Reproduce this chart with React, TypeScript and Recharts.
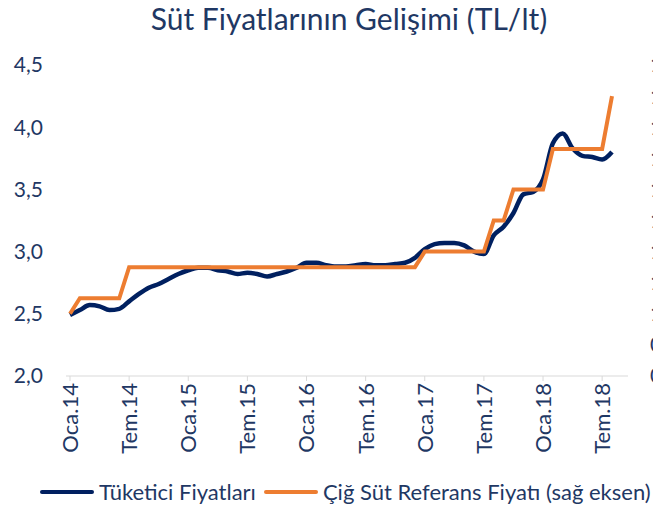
import React from "react";
import { Line, LineChart, XAxis, YAxis } from "recharts";

const months = [
  "Oca.14", "Şub.14", "Mar.14", "Nis.14", "May.14", "Haz.14", "Tem.14", "Ağu.14", "Eyl.14", "Eki.14", "Kas.14", "Ara.14",
  "Oca.15", "Şub.15", "Mar.15", "Nis.15", "May.15", "Haz.15", "Tem.15", "Ağu.15", "Eyl.15", "Eki.15", "Kas.15", "Ara.15",
  "Oca.16", "Şub.16", "Mar.16", "Nis.16", "May.16", "Haz.16", "Tem.16", "Ağu.16", "Eyl.16", "Eki.16", "Kas.16", "Ara.16",
  "Oca.17", "Şub.17", "Mar.17", "Nis.17", "May.17", "Haz.17", "Tem.17", "Ağu.17", "Eyl.17", "Eki.17", "Kas.17", "Ara.17",
  "Oca.18", "Şub.18", "Mar.18", "Nis.18", "May.18", "Haz.18", "Tem.18", "Ağu.18",
];

// Tüketici fiyatları (sol eksen, TL/lt)
const consumerPrice = [
  2.49, 2.53, 2.57, 2.56, 2.53, 2.54, 2.6, 2.66, 2.71, 2.74, 2.78, 2.82,
  2.85, 2.87, 2.87, 2.85, 2.84, 2.82, 2.83, 2.82, 2.8, 2.82, 2.84, 2.87,
  2.91, 2.91, 2.89, 2.88, 2.88, 2.89, 2.9, 2.89, 2.89, 2.9, 2.91, 2.95,
  3.02, 3.06, 3.07, 3.07, 3.05, 3.0, 2.98, 3.13, 3.2, 3.31, 3.46, 3.48,
  3.58, 3.87, 3.95, 3.83, 3.77, 3.76, 3.74, 3.8,
];

// Çiğ süt referans fiyatı (sağ eksen, TL/lt)
const rawMilkPrice = [
  1.0, 1.05, 1.05, 1.05, 1.05, 1.05, 1.15, 1.15, 1.15, 1.15, 1.15, 1.15,
  1.15, 1.15, 1.15, 1.15, 1.15, 1.15, 1.15, 1.15, 1.15, 1.15, 1.15, 1.15,
  1.15, 1.15, 1.15, 1.15, 1.15, 1.15, 1.15, 1.15, 1.15, 1.15, 1.15, 1.15,
  1.2, 1.2, 1.2, 1.2, 1.2, 1.2, 1.2, 1.3, 1.3, 1.4, 1.4, 1.4,
  1.4, 1.53, 1.53, 1.53, 1.53, 1.53, 1.53, 1.7,
];

const leftTicks = [2, 2.5, 3, 3.5, 4, 4.5];
const rightTicks = [0.8, 0.9, 1.0, 1.1, 1.2, 1.3, 1.4, 1.5, 1.6, 1.7, 1.8];

const chartData = months.map((month, i) => ({
  month,
  consumer: consumerPrice[i],
  rawMilk: rawMilkPrice[i],
}));

const NAVY = "#1f3864";
const BLUE = "#002060";
const ORANGE = "#ed7d31";
const FONT = "Lato, 'Open Sans', sans-serif";

const comma = (v: number, digits: number) => v.toFixed(digits).replace(".", ",");

function MonthTick({ x, y, payload }: any) {
  return (
    <g transform={`translate(${x},${y})`}>
      <text
        transform="rotate(-90)"
        x={0}
        y={0}
        dy="0.36em"
        textAnchor="end"
        fill={NAVY}
        fontSize={22}
        fontFamily={FONT}
      >
        {payload.value}
      </text>
    </g>
  );
}

function LegendItem({ color, label, gap }: { color: string; label: string; gap: number }) {
  return (
    <div style={{ display: "flex", alignItems: "center", marginRight: gap }}>
      <div style={{ width: 54, height: 4, background: color, borderRadius: 2, marginRight: 5 }} />
      <span>{label}</span>
    </div>
  );
}

export default function App() {
  return (
    <div
      style={{
        margin: "-8px -8px 0 -8px",
        width: 661,
        height: 504,
        position: "relative",
        overflow: "hidden",
        background: "#fff",
      }}
    >
      <div
        style={{
          position: "absolute",
          top: 0,
          left: 0,
          width: 698,
          textAlign: "center",
          fontFamily: FONT,
          fontSize: 30,
          color: NAVY,
          lineHeight: "36px",
        }}
      >
        Süt Fiyatlarının Gelişimi (TL/lt)
      </div>
      <LineChart
        width={661}
        height={504}
        data={chartData}
        margin={{ top: 65, right: 0, bottom: 38, left: 0 }}
      >
        <XAxis
          dataKey="month"
          interval={5}
          padding={{ left: 4, right: 16 }}
          stroke="#d9d9d9"
          tickSize={5}
          tickMargin={2}
          height={90}
          tick={<MonthTick />}
        />
        <YAxis
          yAxisId="left"
          domain={[2, 4.5]}
          ticks={leftTicks}
          axisLine={false}
          tickLine={false}
          tickSize={0}
          tickMargin={23}
          width={66}
          tickFormatter={(v: number) => comma(v, 1)}
          tick={{ fill: NAVY, fontSize: 21, fontFamily: FONT }}
        />
        <YAxis
          yAxisId="right"
          orientation="right"
          domain={[0.8, 1.8]}
          ticks={rightTicks}
          axisLine={false}
          tickLine={false}
          tickSize={0}
          tickMargin={22}
          width={33}
          tickFormatter={(v: number) => comma(v, 2)}
          tick={{ fill: NAVY, fontSize: 21, fontFamily: FONT, textAnchor: "start" }}
        />
        <Line
          yAxisId="left"
          dataKey="consumer"
          name="Tüketici Fiyatları"
          type="monotone"
          stroke={BLUE}
          strokeWidth={4.5}
          dot={false}
          isAnimationActive={false}
        />
        <Line
          yAxisId="right"
          dataKey="rawMilk"
          name="Çiğ Süt Referans Fiyatı (sağ eksen)"
          type="linear"
          stroke={ORANGE}
          strokeWidth={4}
          dot={false}
          isAnimationActive={false}
        />
      </LineChart>
      <div
        style={{
          position: "absolute",
          left: 40,
          top: 479,
          display: "flex",
          whiteSpace: "nowrap",
          fontFamily: FONT,
          fontSize: 22,
          lineHeight: "26px",
          color: NAVY,
        }}
      >
        <LegendItem color={BLUE} label="Tüketici Fiyatları" gap={8} />
        <LegendItem color={ORANGE} label="Çiğ Süt Referans Fiyatı (sağ eksen)" gap={0} />
      </div>
    </div>
  );
}
